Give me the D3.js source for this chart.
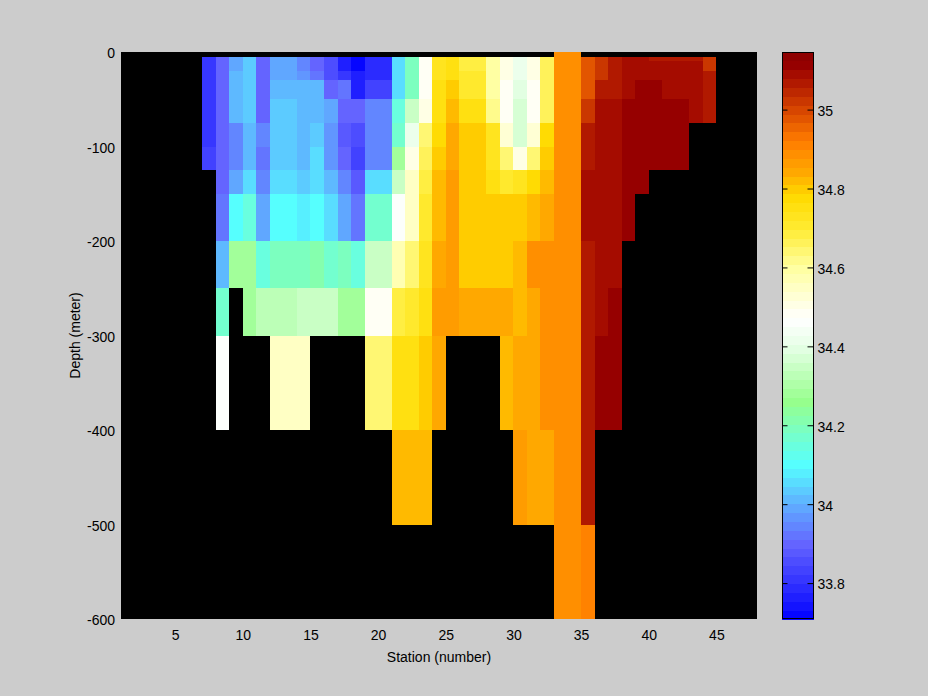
<!DOCTYPE html>
<html><head><meta charset="utf-8">
<script src="https://cdn.jsdelivr.net/npm/d3@7"></script>
<style>
html,body{margin:0;padding:0;background:#cccccc;}
svg{display:block;}
text{font-family:"Liberation Sans",Arial,Helvetica,sans-serif;fill:#000;}
</style></head><body>
<svg id="chart" width="928" height="696"></svg>
<script>
// ---- data ----
// Each station column spans [station, station+1] on the x axis
const stations = [7,8,9,10,11,12,13,14,15,16,17,18,19,20,21,22,23,24,25,26,27,28,29,30,31,32,33,34,35,36,37,38,39,40,41,42,43,44];
// depth layer edges (m); values below give one salinity per layer
const depthEdges = [0,5,10,20,30,50,75,100,125,150,200,250,300,400,500,600];
const n = null;
// salinity per station (rows) and depth layer (columns)
const salinity = [
 [n,33.80,33.80,33.80,33.80,33.81,33.80,33.84,n,n,n,n,n,n,n],
 [n,33.90,33.90,33.90,33.90,33.90,33.90,33.90,33.90,33.93,34.02,34.18,34.45,n,n],
 [n,34.00,34.00,34.01,34.01,34.01,33.95,33.95,33.98,34.10,34.28,n,n,n,n],
 [n,34.04,34.04,34.04,34.04,34.04,34.01,34.01,34.06,34.15,34.28,34.28,n,n,n],
 [n,33.90,33.90,33.90,33.90,33.90,33.95,33.92,33.95,34.00,34.15,34.32,n,n,n],
 [n,34.00,34.00,34.00,34.01,34.04,34.04,34.04,34.06,34.10,34.19,34.32,34.55,n,n],
 [n,34.00,34.00,34.00,34.01,34.04,34.04,34.04,34.06,34.10,34.19,34.32,34.55,n,n],
 [n,33.95,33.95,33.97,34.01,34.01,34.01,34.01,34.04,34.08,34.19,34.35,34.55,n,n],
 [n,33.89,33.89,33.93,34.01,34.01,34.04,34.05,34.06,34.10,34.21,34.35,n,n,n],
 [n,33.85,33.85,33.86,33.90,33.98,33.96,33.96,34.01,34.06,34.18,34.35,n,n,n],
 [n,33.77,33.77,33.80,33.92,33.90,33.88,33.90,33.95,33.98,34.19,34.28,n,n,n],
 [n,33.71,33.71,33.76,33.76,33.90,33.86,33.84,33.88,33.93,34.15,34.28,n,n,n],
 [n,33.78,33.78,33.78,33.84,33.95,33.94,33.95,34.06,34.18,34.35,34.48,34.65,n,n],
 [n,33.78,33.78,33.78,33.84,33.95,33.94,33.95,34.06,34.18,34.35,34.48,34.65,n,n],
 [n,34.06,34.06,34.06,34.06,34.14,34.16,34.28,34.36,34.45,34.58,34.68,34.75,34.81,n],
 [n,34.20,34.20,34.20,34.20,34.35,34.42,34.51,34.55,34.56,34.65,34.70,34.76,34.83,n],
 [n,34.48,34.48,34.48,34.48,34.51,34.65,34.66,34.68,34.70,34.72,34.75,34.79,34.83,n],
 [n,34.72,34.72,34.72,34.75,34.75,34.78,34.79,34.82,34.83,34.85,34.87,34.835,n,n],
 [n,34.75,34.75,34.75,34.79,34.82,34.835,34.85,34.86,34.87,34.87,34.87,n,n,n],
 [n,34.68,34.68,34.70,34.70,34.76,34.80,34.79,34.79,34.80,34.80,34.85,n,n,n],
 [n,34.68,34.68,34.70,34.70,34.76,34.80,34.79,34.79,34.80,34.80,34.85,n,n,n],
 [n,34.60,34.60,34.60,34.60,34.62,34.72,34.72,34.75,34.79,34.80,34.835,n,n,n],
 [n,34.51,34.51,34.51,34.48,34.48,34.52,34.65,34.70,34.79,34.80,34.835,34.82,n,n],
 [n,34.41,34.41,34.41,34.40,34.38,34.38,34.51,34.72,34.79,34.82,34.82,34.84,34.86,n],
 [n,34.51,34.51,34.51,34.48,34.48,34.53,34.65,34.78,34.82,34.885,34.84,34.84,34.85,n],
 [n,34.66,34.66,34.66,34.67,34.67,34.78,34.80,34.83,34.85,34.885,34.885,34.885,34.84,n],
 [34.885,34.885,34.885,34.885,34.885,34.885,34.885,34.885,34.885,34.885,34.885,34.885,34.885,34.885,34.885],
 [34.885,34.885,34.885,34.885,34.885,34.885,34.885,34.885,34.885,34.885,34.885,34.885,34.885,34.885,34.885],
 [n,34.97,34.97,34.97,34.97,35.03,35.07,35.07,35.09,35.09,35.07,35.07,35.07,35.07,34.92],
 [n,35.03,35.03,35.03,35.07,35.09,35.09,35.09,35.09,35.09,35.09,35.09,35.12,n,n],
 [n,35.07,35.07,35.07,35.07,35.09,35.09,35.09,35.09,35.09,35.09,35.12,35.12,n,n],
 [n,35.09,35.09,35.09,35.09,35.12,35.12,35.12,35.12,35.12,n,n,n,n,n],
 [n,35.09,35.09,35.09,35.12,35.12,35.12,35.12,35.12,n,n,n,n,n,n],
 [n,35.07,35.09,35.09,35.12,35.12,35.12,35.12,n,n,n,n,n,n,n],
 [n,35.07,35.09,35.09,35.10,35.12,35.12,35.12,n,n,n,n,n,n,n],
 [n,35.07,35.09,35.09,35.10,35.12,35.12,35.12,n,n,n,n,n,n,n],
 [n,35.06,35.09,35.09,35.09,35.09,n,n,n,n,n,n,n,n,n],
 [n,35.03,35.03,35.07,35.07,35.07,n,n,n,n,n,n,n,n,n]
];
const xTicks = [5,10,15,20,25,30,35,40,45];
const yTicks = [0,-100,-200,-300,-400,-500,-600];
const cbarTicks = [33.8,34,34.2,34.4,34.6,34.8,35];
const cLimits = [33.709, 35.146];
const nLevels = 64;
// colormap anchors
const cmapStops = [33.709,33.80,33.90,34.00,34.10,34.18,34.26,34.40,34.47,34.60,34.70,34.78,34.84,34.92,35.00,35.067,35.09,35.112,35.146];
const cmapColors = ["#0000ff","#3232ff","#6464ff","#5fafff","#55ffff","#78ffc8","#96ff8c","#e6ffe6","#ffffff","#ffffa0","#ffeb32","#ffda00","#ffaa00","#ff7d00","#d74600","#b11900","#a50c00","#960000","#8a0000"];

// ---- layout ----
const svg = d3.select("#chart");
const plot = {left:121, right:757, top:52, bottom:619};
const cbar = {left:782, right:814};
const tickFont = "14px";

const x = d3.scaleLinear().domain([1,48]).range([plot.left, plot.right]);
const y = d3.scaleLinear().domain([-600,0]).range([plot.bottom, plot.top]);
const cy = d3.scaleLinear().domain(cLimits).range([plot.bottom, plot.top]);
const cmap = d3.scaleLinear().domain(cmapStops).range(cmapColors).interpolate(d3.interpolateRgb);
const step = (cLimits[1]-cLimits[0])/nLevels;
const palette = d3.range(nLevels).map(i => cmap(cLimits[0] + (i+0.5)*step));
function colorOf(v){
  let i = Math.floor((v - cLimits[0])/step);
  i = Math.max(0, Math.min(nLevels-1, i));
  return palette[i];
}

// plot background (missing data shows black)
svg.append("rect").attr("x",plot.left).attr("y",plot.top)
  .attr("width",plot.right-plot.left).attr("height",plot.bottom-plot.top).attr("fill","#000");

const cells = [];
stations.forEach((s,si) => {
  salinity[si].forEach((v,r) => {
    if (v !== null) cells.push({s, top:depthEdges[r], bot:depthEdges[r+1], v});
  });
});
svg.append("g").attr("shape-rendering","crispEdges")
  .selectAll("rect").data(cells).join("rect")
  .attr("x", d => x(d.s))
  .attr("width", d => x(d.s+1)-x(d.s))
  .attr("y", d => y(-d.top))
  .attr("height", d => y(-d.bot) - y(-d.top))
  .attr("fill", d => colorOf(d.v));

// axes
const xAxis = d3.axisBottom(x).tickValues(xTicks).tickSize(0).tickPadding(11).tickFormat(d => String(d));
const gx = svg.append("g").attr("transform",`translate(0,${plot.bottom})`).call(xAxis);
const yAxis = d3.axisLeft(y).tickValues(yTicks).tickSize(0).tickPadding(6).tickFormat(d => String(d));
const gy = svg.append("g").attr("transform",`translate(${plot.left},0)`).call(yAxis);
[gx,gy].forEach(g => {
  g.select(".domain").remove();
  g.selectAll("text").style("font-size",tickFont).style("font-family",'"Liberation Sans",Arial,sans-serif').attr("fill","#000");
});
gy.selectAll("text").attr("dy","0.42em");

svg.append("text").attr("x",(plot.left+plot.right)/2).attr("y",662)
  .attr("text-anchor","middle").style("font-size","14px").text("Station (number)");
svg.append("text").attr("transform",`translate(80,${(plot.top+plot.bottom)/2}) rotate(-90)`)
  .attr("text-anchor","middle").style("font-size","14px").text("Depth (meter)");

// colorbar
svg.append("g").attr("shape-rendering","crispEdges")
  .selectAll("rect").data(palette).join("rect")
  .attr("x",cbar.left).attr("width",cbar.right-cbar.left)
  .attr("y",(c,i) => cy(cLimits[0]+(i+1)*step))
  .attr("height",(c,i) => cy(cLimits[0]+i*step) - cy(cLimits[0]+(i+1)*step) + 0.5)
  .attr("fill", c => c);
svg.append("rect").attr("x",cbar.left+0.5).attr("y",plot.top+0.5)
  .attr("width",cbar.right-cbar.left-1).attr("height",plot.bottom-plot.top-1)
  .attr("fill","none").attr("stroke","#000").attr("stroke-width",1);
const cAxisR = d3.axisRight(cy).tickValues(cbarTicks).tickSize(-6).tickPadding(4).tickFormat(d => String(d));
const gc = svg.append("g").attr("transform",`translate(${cbar.right-0.5},0)`).call(cAxisR);
gc.select(".domain").remove();
gc.selectAll("text").style("font-size",tickFont).attr("fill","#000").attr("dy","0.42em");
gc.selectAll("line").attr("stroke","#000");
const cAxisL = d3.axisLeft(cy).tickValues(cbarTicks).tickSize(-5).tickFormat("");
const gcl = svg.append("g").attr("transform",`translate(${cbar.left+0.5},0)`).call(cAxisL);
gcl.select(".domain").remove();
gcl.selectAll("line").attr("stroke","#000");
</script>
</body></html>
